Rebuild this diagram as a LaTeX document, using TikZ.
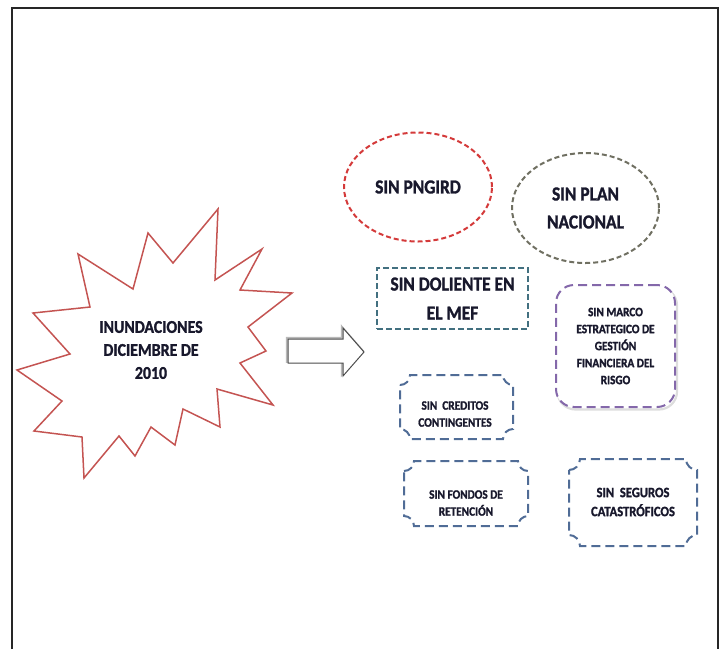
\documentclass[tikz,border=0pt]{standalone}
\usepackage{fontspec}
\setmainfont[FakeStretch=0.88, BoldFeatures={FakeBold=1.4}]{Carlito}
\usetikzlibrary{shapes.geometric}

\definecolor{txt}{RGB}{24,24,44}
\definecolor{starred}{RGB}{196,84,82}
\definecolor{pngred}{RGB}{212,58,58}
\definecolor{olivegray}{RGB}{112,112,98}
\definecolor{tealgray}{RGB}{66,112,128}
\definecolor{lilac}{RGB}{132,104,170}
\definecolor{slate}{RGB}{80,108,150}

% concave-cornered "plaque" outline: left, top, right, bottom, corner radius
\newcommand\plaquebox[5]{%
  \draw[plaque] (#1,{#2+#5})
    .. controls ({#1+0.55*#5},{#2+#5}) and ({#1+#5},{#2+0.55*#5}) .. ({#1+#5},#2)
    -- ({#3-#5},#2)
    .. controls ({#3-#5},{#2+0.55*#5}) and ({#3-0.55*#5},{#2+#5}) .. (#3,{#2+#5})
    -- (#3,{#4-#5})
    .. controls ({#3-0.55*#5},{#4-#5}) and ({#3-#5},{#4-0.55*#5}) .. ({#3-#5},#4)
    -- ({#1+#5},#4)
    .. controls ({#1+#5},{#4-0.55*#5}) and ({#1+0.55*#5},{#4-#5}) .. (#1,{#4-#5})
    -- cycle;}

\tikzset{
  txtnode/.style={text=txt, align=center, inner sep=0pt},
  bigtxt/.style={txtnode, font=\bfseries\fontsize{19.8}{28}\selectfont},
  smalltxt/.style={txtnode, font=\bfseries\fontsize{12.8}{17}\selectfont},
  oval/.style={ellipse, line width=2pt, dash pattern=on 5pt off 3pt, inner sep=0pt},
  plaque/.style={draw=slate, line width=2pt, dash pattern=on 9pt off 5pt},
}

\begin{document}
\begin{tikzpicture}[x=1pt, y=-1pt]
\useasboundingbox (0,0) rectangle (725,649);

% outer frame, open at the bottom
\draw[line width=1.6pt, black!85] (12,649) -- (12,8) -- (718,8) -- (718,649);

% starburst
\draw[starred, line width=1.5pt, line join=miter]
  (218,209) -- (215,280) -- (262,249) -- (240,290) -- (292,293) -- (248,327)
  -- (266,351) -- (240,363) -- (273,405) -- (217,389) -- (220,427) -- (183,409)
  -- (175,445) -- (151,427) -- (135,456) -- (119,436) -- (84,478) -- (82,437)
  -- (34,431) -- (62,401) -- (17,370) -- (70,354) -- (33,313) -- (90,307)
  -- (78,254) -- (133,289) -- (148,233) -- (173,263) -- cycle;
\node[txtnode, font=\bfseries\fontsize{18}{23}\selectfont] (flood) at (151,350)
  {INUNDACIONES\\DICIEMBRE DE\\2010};

% block arrow with its shadow
\draw[gray!55, line width=2pt, line join=miter, shift={(-1.2,-1.2)}]
  (288,339) -- (343,339) -- (343,328) -- (364,352) -- (343,376) -- (343,363) -- (288,363) -- cycle;
\draw[black!70, line width=1pt, line join=miter, fill=white]
  (288,339) -- (343,339) -- (343,328) -- (364,352) -- (343,376) -- (343,363) -- (288,363) -- cycle;

% ovals
\node[oval, draw=pngred, minimum width=148pt, minimum height=109pt, bigtxt]
  (pngird) at (418,187) {SIN PNGIRD};
\node[oval, draw=olivegray, minimum width=147pt, minimum height=110pt, bigtxt]
  (plan) at (585.5,208) {SIN PLAN\\NACIONAL};

% dashed rectangle
\node[draw=tealgray, line width=1.8pt, dash pattern=on 6pt off 3pt,
  minimum width=151pt, minimum height=61pt, inner sep=0pt, bigtxt,
  font=\bfseries\fontsize{19.8}{29}\selectfont]
  (mef) at (452.5,298.5) {SIN DOLIENTE EN\\EL MEF};

% rounded box with soft shadow
\draw[gray!45, line width=2.2pt, opacity=0.6, rounded corners=18pt]
  (557.5,287.5) rectangle (677,409.5);
\node[draw=lilac, line width=2pt, dash pattern=on 9pt off 5pt, rounded corners=18pt,
  fill=white, minimum width=119pt, minimum height=122pt, inner sep=0pt, smalltxt]
  (marco) at (615.5,346) {SIN MARCO\\ESTRATEGICO DE\\GESTIÓN\\FINANCIERA DEL\\RISGO};

% plaque boxes
\plaquebox{400}{375}{513}{439}{10}
\node[smalltxt] (creditos) at (455,414) {SIN\ \ CREDITOS\\CONTINGENTES};

\plaquebox{404}{461}{528}{526}{10}
\node[smalltxt] (fondos) at (466,503) {SIN FONDOS DE\\RETENCIÓN};

\plaquebox{569}{459}{697}{546}{11}
\node[txtnode, font=\bfseries\fontsize{14.3}{19}\selectfont] (seguros) at (633,502)
  {SIN\ \ SEGUROS\\CATASTRÓFICOS};
\end{tikzpicture}
\end{document}
